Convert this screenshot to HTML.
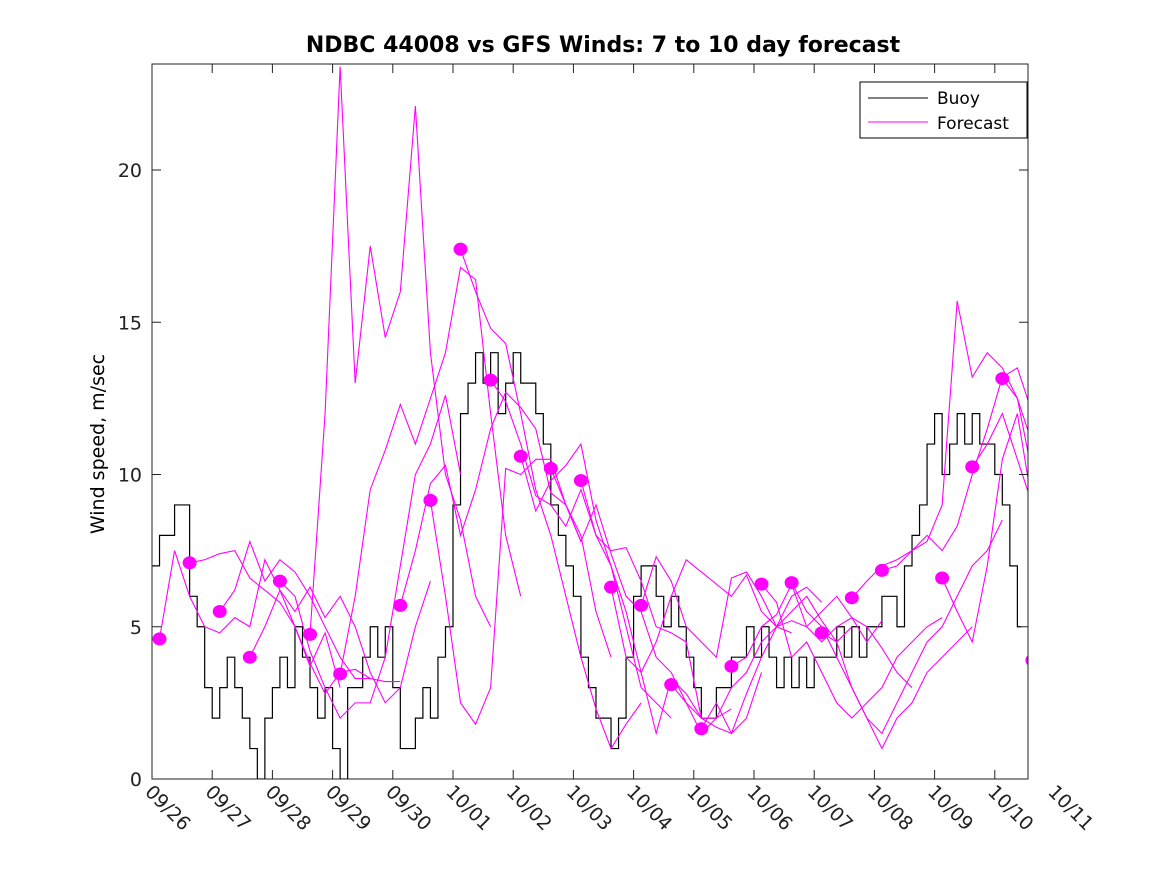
<!DOCTYPE html>
<html><head><meta charset="utf-8"><style>
body{margin:0;background:#fff;}
svg{display:block;font-family:"DejaVu Sans","Liberation Sans",sans-serif;}
</style></head><body>
<svg id="chart" width="1167" height="875" xmlns="http://www.w3.org/2000/svg">
<rect width="1167" height="875" fill="#fff"/>
<defs><clipPath id="clip"><rect x="152" y="64" width="876" height="715"/></clipPath></defs>
<text x="603" y="52" text-anchor="middle" font-size="22" font-weight="bold">NDBC 44008 vs GFS Winds: 7 to 10 day forecast</text>
<text transform="translate(104,444) rotate(-90)" text-anchor="middle" font-size="19">Wind speed, m/sec</text>
<g id="plot" clip-path="url(#clip)"></g>
<g id="axes"></g>
<g>
<rect x="860" y="82" width="167" height="56" fill="#fff" stroke="#000" stroke-width="1"/>
<line x1="868" y1="98" x2="928" y2="98" stroke="#000"/>
<text x="937" y="104" font-size="17">Buoy</text>
<line x1="868" y1="122" x2="928" y2="122" stroke="#f0f"/>
<text x="937" y="129" font-size="17">Forecast</text>
</g>
</svg>
<script>
const dayLabels=["09/26","09/27","09/28","09/29","09/30","10/01","10/02","10/03","10/04","10/05","10/06","10/07","10/08","10/09","10/10","10/11"];
const yTicks=[0,5,10,15,20];
const buoy=[7,8,8,9,9,6,5,3,2,3,4,3,2,1,0,2,3,4,3,5,4,3,2,3,1,0,3,3,4,5,4,5,3,1,1,2,3,2,4,5,9,12,13,14,13,14,12,13,14,13,13,12,11,9,8,7,6,4,3,2,2,1,2,4,6,7,7,6,5,6,5,4,3,2,2,3,3,4,4,5,4,5,4,3,4,3,4,3,4,4,4,5,4,5,4,5,5,6,6,5,7,8,9,11,12,10,11,12,11,12,11,11,10,9,7,5];
const fcStart=[0,1,2,3,4,5,6,8,9,10,11,12,13,14,15,16,17,18,19,20,21,22,23,24,26,27,28,29];
const fcValues=[
[4.6,7.5,6.0,5.0,4.8,5.3,5.0,7.2,6.2,5.0,3.7,4.8,3.0],
[7.1,7.2,7.4,7.5,6.6,6.2,5.8,5.0,3.8,2.8,3.5,3.6,3.3],
[5.5,6.2,7.8,6.5,7.2,6.8,6.0,5.0,4.0,3.3,3.3,3.2,3.2],
[4.0,5.0,6.2,5.5,6.3,5.3,6.0,5.0,3.5,2.5,3.0,5.0,6.5],
[6.5,6.0,4.2,3.0,2.0,2.5,2.5,4.0,7.0,10.0,11.0,12.6,10.0],
[4.75,12.0,23.4,13.0,17.5,14.5,16.0,22.1,14.0,10.0,8.5,6.0,5.0],
[3.45,6.0,9.5,10.8,12.3,11.0,12.5,14.0,16.8,16.4,12.0,8.0,6.0],
[5.7,7.5,9.7,10.3,8.0,9.5,11.5,12.7,12.2,11.5,9.4,9.0,7.8],
[9.15,6.0,2.5,1.8,3.0,10.2,10.0,10.5,10.5,9.0,8.0,5.5,4.0],
[17.4,16.0,14.8,14.3,12.0,9.5,8.0,6.0,4.0,2.3,1.0,1.8,2.5],
[13.1,12.4,11.0,9.3,9.0,8.3,9.5,8.0,7.0,5.0,3.0,2.5,2.0],
[10.6,8.8,9.8,10.3,11.0,8.5,7.0,5.5,3.5,1.5,3.3,2.8,2.0],
[10.2,9.0,7.8,9.0,7.4,6.0,5.5,4.0,3.5,2.5,2.0,2.0,2.3],
[9.8,8.0,7.5,7.6,6.5,5.0,4.8,4.5,2.0,1.7,1.5,2.0,3.5],
[6.3,4.0,3.5,4.5,6.0,7.2,6.8,6.4,6.0,6.7,5.5,5.0,4.8],
[5.7,7.3,6.5,5.0,4.5,4.0,6.6,6.8,6.0,5.0,6.0,6.3,5.8],
[3.1,2.5,1.5,2.0,3.0,3.5,4.5,5.0,5.5,6.0,5.2,4.5,5.0],
[1.65,2.5,1.5,2.8,4.0,5.0,5.2,5.0,5.5,6.0,5.3,4.5,5.2],
[3.7,4.0,5.0,5.4,6.4,5.0,4.5,5.0,5.3,5.0,4.3,3.5,3.0],
[6.4,5.8,4.0,4.5,3.5,2.5,2.0,2.5,3.0,4.0,4.5,5.0,5.3],
[6.45,5.5,5.0,4.0,3.0,2.0,1.0,2.0,2.5,3.5,4.0,4.5,5.0],
[4.8,4.5,3.0,2.0,1.5,2.5,3.5,4.5,5.0,6.0,7.0,7.5,8.5],
[5.95,6.5,7.0,7.2,7.5,8.0,7.5,8.3,10.0,11.5,13.2,13.5,12.0],
[6.85,7.0,7.5,7.8,9.0,15.7,13.2,14.0,13.5,12.5,11.0,9.5,8.5],
[6.6,5.5,4.5,7.0,10.5,12.0,9.0,8.0,5.5,4.0,3.8,5.5,7.0],
[10.25,11.0,12.0,10.5,9.0,7.0,5.0,3.5,4.5,6.0,7.0,8.0,8.5],
[13.15,12.5,10.0,9.0,8.0,7.0,6.5,6.0,6.0,6.0,6.0,6.0,6.0],
[3.9,5.0,6.0,7.0,7.0,7.0,7.0,7.0,7.0,7.0,7.0,7.0,7.0]
];
const NS="http://www.w3.org/2000/svg";
const X0=152,X1=1028,Y0=779,Y1=64,PXD=60.2,PXU=30.45;
function xs(t){return X0+t*PXD;}
function ys(v){return Y0-v*PXU;}
function mk(tag,at,parent){const e=document.createElementNS(NS,tag);for(const k in at)e.setAttribute(k,at[k]);parent.appendChild(e);return e;}
const plot=document.getElementById('plot'),axes=document.getElementById('axes');
let d="";
buoy.forEach((v,i)=>{const x=xs(i*0.125),y=ys(v);d+=(i===0?"M"+x+","+y:"H"+x+"V"+y);});
d+="H"+xs(buoy.length*0.125-0.06);
const bl=mk('path',{d:d,fill:'none',stroke:'#000','stroke-width':1.2},plot);


fcValues.forEach((vals,n)=>{
  const t0=0.125+0.5*fcStart[n];
  const pts=vals.map((v,j)=>xs(t0+0.25*j)+","+ys(v)).join(" ");
  const pl=mk('polyline',{points:pts,fill:'none',stroke:'#f0f','stroke-width':1.1},plot);
  
  
});
fcValues.forEach((vals,n)=>{
  const t0=0.125+0.5*fcStart[n];
  const c=mk('ellipse',{cx:xs(t0),cy:ys(vals[0]),rx:7,ry:6.5,fill:'#f0f'},plot);
  
  
});
const fr=mk('rect',{x:X0,y:Y1,width:X1-X0,height:Y0-Y1,fill:'none',stroke:'#222','stroke-width':1},axes);


yTicks.forEach(v=>{
  const y=ys(v);
  mk('line',{x1:X0,y1:y,x2:X0+9,y2:y,stroke:'#222'},axes);
  mk('line',{x1:X1,y1:y,x2:X1-9,y2:y,stroke:'#222'},axes);
  const t=mk('text',{x:X0-10,y:y+7,'text-anchor':'end','font-size':19,fill:'#222'},axes);
  t.textContent=v;
  
  
});
dayLabels.forEach((lab,i)=>{
  const x=xs(i);
  if(x<=X1){mk('line',{x1:x,y1:Y0,x2:x,y2:Y0-9,stroke:'#222'},axes);mk('line',{x1:x,y1:Y1,x2:x,y2:Y1+9,stroke:'#222'},axes);}
  const t=mk('text',{transform:'translate('+(x-8)+','+(Y0+14)+') rotate(45)','font-size':19,fill:'#222'},axes);
  t.textContent=lab;
  
  
});
</script>
</body></html>
